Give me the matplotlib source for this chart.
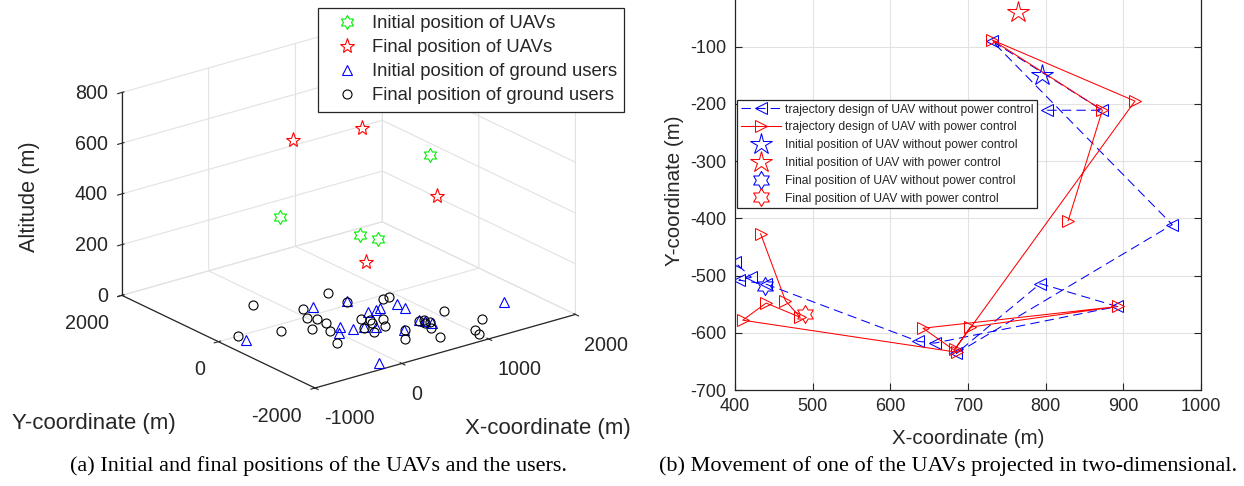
import numpy as np
import matplotlib
matplotlib.use("Agg")
import matplotlib.pyplot as plt
from matplotlib.path import Path
from mpl_toolkits.mplot3d import Axes3D  # noqa: F401

# ---------------- (a) 3-D positions (m) ----------------
uav_init_x = [1440, -290, 633, 840]
uav_init_y = [0, 0, 0, 0]
uav_init_z = [501, 423, 263, 228]

uav_final_x = [-140, 656, 1521, 702]
uav_final_y = [0, 0, 0, 0]
uav_final_z = [712, 682, 331, 150]

gu_init_x = [220, 540, 543, 623, 688, 866, 861, 111, 6, 168, 285, 372, 526,
             781, 814, 837, 1661, -777, -161]
gu_init_y = [225, 110, -333, -344, -314, -341, -521, -524, -698, -684, -708,
             -800, -1105, -942, -1021, -1118, -1123, -162, -1819]

gu_final_x = [-191, 526, 107, 9, 57, 58, -131, -23, -386, -765, -163, 537, 836,
              907, 379, 425, 392, 260, 275, 448, 537, 533, 396, 766, 817, 779,
              840, 756, 680, 1103, 1253, 1042, 1005]
gu_final_y = [731, 480, 231, -28, -136, -322, -382, -556, -186, 11, -953, 105,
              -105, -94, -476, -567, -675, -752, -939, -837, -655, -1112, -1357,
              -969, -981, -1084, -1078, -1249, -1558, -881, -1410, -1649, -1784]

x3_ticks = [-1000, 0, 1000, 2000]
y3_ticks = [-2000, 0, 2000]
z3_ticks = [0, 200, 400, 600, 800]

legend_a = ["Initial position of UAVs", "Final position of UAVs",
            "Initial position of ground users", "Final position of ground users"]

# ---------------- (b) 2-D trajectories (m) ----------------
traj_nopc_x = [802, 873, 731, 963, 685, 793, 892, 657, 636, 440, 405, 421, 400]
traj_nopc_y = [-211, -211, -90, -411, -636, -514, -554, -618, -615, -515, -508, -503, -477]

traj_pc_x = [829, 873, 731, 915, 683, 703, 893, 642, 686, 410, 440, 484, 465, 433]
traj_pc_y = [-404, -211, -88, -195, -629, -590, -554, -592, -634, -578, -548, -573, -544, -427]

init_nopc = (795, -150)
init_pc = (764, -39)
final_nopc = (439, -519)
final_pc = (490, -568)

x2_ticks = [400, 500, 600, 700, 800, 900, 1000]
y2_ticks = [-700, -600, -500, -400, -300, -200, -100]

legend_b = ["trajectory design of UAV without power control",
            "trajectory design of UAV with power control",
            "Initial position of UAV without power control",
            "Initial position of UAV with power control",
            "Final position of UAV without power control",
            "Final position of UAV with power control"]

caption_a = "(a) Initial and final positions of the UAVs and the users."
caption_b = "(b) Movement of one of the UAVs projected in two-dimensional."

# ---------------- styling ----------------
W, H = 1244, 486
plt.rcParams['font.family'] = ['Liberation Sans', 'DejaVu Sans']
plt.rcParams['axes.unicode_minus'] = False
plt.rcParams['grid.color'] = '#e2e2e2'
plt.rcParams['grid.linewidth'] = 0.8
TXT = '#262626'
BLUE, RED, GREEN = '#0000ff', '#ff0000', '#00ee00'
hexagram = Path.unit_regular_star(6, 0.577)

fig = plt.figure(figsize=(W / 100, H / 100), dpi=100)


def fxp(px):
    return px / W


def fyp(py):
    return 1 - py / H


# ================= (a) 3-D plot =================
ax3 = fig.add_axes([0.0, 0.0, 0.55, 1.0], projection='3d')
ax3.patch.set_visible(False)
ax3.set_proj_type('ortho')
ax3.view_init(elev=21.6, azim=-127.5)
ax3.set_box_aspect((328, 317, 218))

ha1, = ax3.plot(uav_init_x, uav_init_y, uav_init_z, ls='none', marker=hexagram,
                ms=10, mfc='none', mec=GREEN, mew=0.8)
ha2, = ax3.plot(uav_final_x, uav_final_y, uav_final_z, ls='none', marker='*',
                ms=11, mfc='none', mec=RED, mew=0.8)
ha3, = ax3.plot(gu_init_x, gu_init_y, np.zeros(len(gu_init_x)), ls='none',
                marker='^', ms=7, mfc='none', mec=BLUE, mew=0.8)
ha4, = ax3.plot(gu_final_x, gu_final_y, np.zeros(len(gu_final_x)), ls='none',
                marker='o', ms=6.5, mfc='none', mec='black', mew=0.8)

XMIN, XMAX, YMIN, YMAX, ZMIN, ZMAX = -1000, 2000, -2000, 2000, 0, 800
ax3.set_xlim(XMIN, XMAX)
ax3.set_ylim(YMIN, YMAX)
ax3.set_zlim(ZMIN, ZMAX)
ax3.set_xticks(x3_ticks)
ax3.set_yticks(y3_ticks)
ax3.set_zticks(z3_ticks)
ax3.set_xticklabels([])
ax3.set_yticklabels([])
ax3.set_zticklabels([])
for axis in (ax3.xaxis, ax3.yaxis, ax3.zaxis):
    axis.set_pane_color((1, 1, 1, 0))
    axis.pane.set_edgecolor('#dcdcdc')
    axis.line.set_color(TXT)
    axis.line.set_linewidth(0.9)
ax3.tick_params(colors=TXT)
ax3.grid(True)

TA = np.array([315.0, 388.0])   # corner (xmin, ymin, zmin)
TB = np.array([122.0, 92.4])    # corner (xmin, ymax, zmax)


def corner_px(ax, x, y, z):
    M = ax.get_proj()
    v = M @ np.array([x, y, z, 1.0])
    d = ax.transData.transform((v[0] / v[3], v[1] / v[3]))
    return np.array([d[0], H - d[1]])


for _ in range(3):
    fig.canvas.draw()
    A = corner_px(ax3, XMIN, YMIN, ZMIN)
    B = corner_px(ax3, XMIN, YMAX, ZMAX)
    k = np.linalg.norm(TB - TA) / np.linalg.norm(B - A)
    pos = ax3.get_position()
    c = np.array([(pos.x0 + pos.x1) / 2 * W, H - (pos.y0 + pos.y1) / 2 * H])
    w = pos.width * W * k
    h = pos.height * H * k
    nc = TA - k * (A - c)
    ax3.set_position([(nc[0] - w / 2) / W, 1 - (nc[1] + h / 2) / H, w / W, h / H])
fig.canvas.draw()

# tick labels placed MATLAB-style next to the projected tick positions
TICK_FS = 14.2
for xv in x3_ticks:
    p = corner_px(ax3, xv, YMIN, ZMIN)
    fig.text(fxp(p[0] + 9), fyp(p[1] + 31), f"{xv}", ha='left', va='center',
             fontsize=TICK_FS, color=TXT)
for yv in y3_ticks:
    p = corner_px(ax3, XMIN, yv, ZMIN)
    fig.text(fxp(p[0] - 13), fyp(p[1] + 28), f"{yv}", ha='right', va='center',
             fontsize=TICK_FS, color=TXT)
for zv in z3_ticks:
    p = corner_px(ax3, XMIN, YMAX, zv)
    fig.text(fxp(p[0] - 14), fyp(p[1] + 1), f"{zv}", ha='right', va='center',
             fontsize=TICK_FS, color=TXT)

fig.text(fxp(30), fyp(197), "Altitude (m)", rotation=90, ha='center', va='center',
         fontsize=15.6, color=TXT)
fig.text(fxp(94), fyp(423), "Y-coordinate (m)", ha='center', va='center',
         fontsize=16, color=TXT)
fig.text(fxp(548), fyp(428), "X-coordinate (m)", ha='center', va='center',
         fontsize=16, color=TXT)

leg_a = fig.legend([ha1, ha2, ha3, ha4], legend_a, loc='upper left',
                   bbox_to_anchor=(fxp(318), fyp(8)), bbox_transform=fig.transFigure,
                   borderaxespad=0, fontsize=13.3, frameon=True, fancybox=False,
                   framealpha=1, edgecolor=TXT, borderpad=0.4, handlelength=2.35,
                   handletextpad=0.17, labelspacing=0.38)
leg_a.get_frame().set_linewidth(0.9)
for t in leg_a.get_texts():
    t.set_color(TXT)

# ================= (b) 2-D plot =================
ax2 = fig.add_axes([fxp(735), fyp(390), (1201 - 735) / W, 390 / H])
dash = (0, (9, 5))
hb1, = ax2.plot(traj_nopc_x, traj_nopc_y, color=BLUE, ls=dash, lw=0.75,
                marker='<', ms=8.5, mfc='none', mec=BLUE, mew=0.75)
hb2, = ax2.plot(traj_pc_x, traj_pc_y, color=RED, ls='-', lw=0.75,
                marker='>', ms=8.5, mfc='none', mec=RED, mew=0.75)
hb3, = ax2.plot([init_nopc[0]], [init_nopc[1]], ls='none', marker='*', ms=16,
                mfc='none', mec=BLUE, mew=0.75)
hb4, = ax2.plot([init_pc[0]], [init_pc[1]], ls='none', marker='*', ms=16,
                mfc='none', mec=RED, mew=0.75)
hb5, = ax2.plot([final_nopc[0]], [final_nopc[1]], ls='none', marker=hexagram, ms=13,
                mfc='none', mec=BLUE, mew=0.75)
hb6, = ax2.plot([final_pc[0]], [final_pc[1]], ls='none', marker=hexagram, ms=13,
                mfc='none', mec=RED, mew=0.75)

ax2.set_xlim(400, 1000)
ax2.set_ylim(-700, -18.3)
ax2.set_xticks(x2_ticks)
ax2.set_yticks(y2_ticks)
ax2.grid(True, color='#e2e2e2', lw=0.8)
ax2.set_axisbelow(True)
ax2.tick_params(direction='in', length=5, width=0.8, right=True, top=False,
                labelsize=13, colors=TXT, pad=6)
for side, sp in ax2.spines.items():
    sp.set_color(TXT)
    sp.set_linewidth(0.9)
ax2.spines['top'].set_visible(False)

fig.text(fxp(968), fyp(438), "X-coordinate (m)", ha='center', va='center',
         fontsize=14.8, color=TXT)
fig.text(fxp(674), fyp(191), "Y-coordinate (m)", rotation=90, ha='center',
         va='center', fontsize=14.8, color=TXT)

leg_b = ax2.legend([hb1, hb2, hb3, hb4, hb5, hb6], legend_b, loc='upper left',
                   bbox_to_anchor=(fxp(737), fyp(100)), bbox_transform=fig.transFigure,
                   borderaxespad=0, fontsize=8.7, frameon=True, fancybox=False,
                   framealpha=1, edgecolor=TXT, borderpad=0.3, handlelength=3.37,
                   handletextpad=0.3, labelspacing=0.48)
leg_b.get_frame().set_linewidth(0.9)
for t in leg_b.get_texts():
    t.set_color(TXT)

# ================= captions =================
fig.text(fxp(319), fyp(466), caption_a, ha='center', va='center', fontsize=16,
         family=['Liberation Serif', 'DejaVu Serif'], color='black')
fig.text(fxp(948), fyp(466), caption_b, ha='center', va='center', fontsize=16,
         family=['Liberation Serif', 'DejaVu Serif'], color='black')

fig.savefig("out.png", dpi=100)
